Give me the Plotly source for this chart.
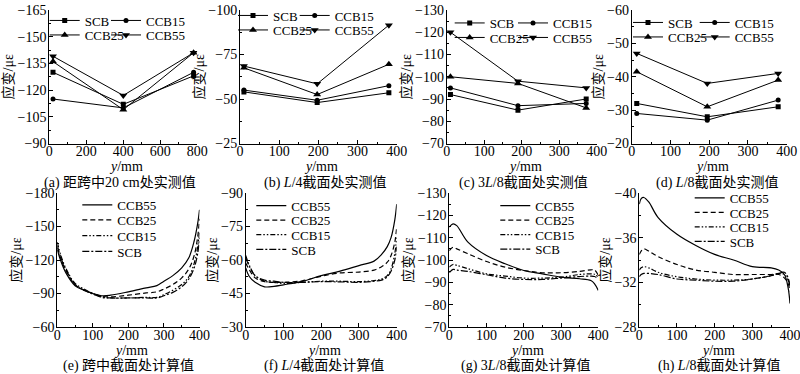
import plotly.graph_objects as go

# ---------------- DATA ----------------
SERIES = ["SCB", "CCB15", "CCB25", "CCB55"]

# (a) 20 cm from mid-span, measured
a_y = [20, 400, 780]
a_scb = [-130, -112, -128]
a_ccb15 = [-115, -110, -130]
a_ccb25 = [-136, -109, -141]
a_ccb55 = [-139, -117, -141]

# (b) L/4, measured
b_y = [10, 197, 380]
b_scb = [-54, -48, -53.5]
b_ccb15 = [-55, -49.3, -57.5]
b_ccb25 = [-67.5, -52.5, -69.5]
b_ccb55 = [-68.5, -58.5, -91.5]

# (c) 3L/8, measured
c_y = [10, 190, 372]
c_scb = [-92, -85, -90]
c_ccb15 = [-95, -87, -88]
c_ccb25 = [-100, -97, -86]
c_ccb55 = [-120, -98, -95]

# (d) L/8, measured
d_y = [13, 195, 378]
d_scb = [-32, -28, -31]
d_ccb15 = [-29, -27, -33]
d_ccb25 = [-41.5, -31, -39]
d_ccb55 = [-47, -38, -41]

# (e) mid-span, computed
e_y = [0, 10, 25, 50, 75, 100, 125, 150, 200, 250, 280, 300, 325, 350, 370, 385, 395, 400]
e_ccb55 = [-129, -119, -108, -97, -93, -90, -88, -88.5, -91.5, -95, -97, -101, -106, -113, -122, -137, -153, -165]
e_ccb25 = [-131, -121, -110, -98, -93, -90, -87.5, -87, -88.5, -90.5, -91.5, -94, -98, -104, -112, -124, -141, -157]
e_ccb15 = [-136, -124, -112, -99, -94, -90, -87, -86, -86, -86.5, -86.5, -89, -93, -98, -105, -117, -132, -146]
e_scb = [-133, -122, -111, -98, -93, -89.5, -86.5, -86, -86, -86, -86, -88, -91, -96, -103, -113, -126, -140]

# (f) L/4, computed
f_y = [0, 10, 25, 50, 75, 100, 150, 200, 250, 300, 340, 360, 375, 385, 395, 400]
f_ccb55 = [-56.5, -52.5, -50, -48, -48.2, -48.9, -50.4, -53, -55, -57.5, -59.5, -62.5, -66, -70, -78, -85]
f_ccb25 = [-58.7, -55.5, -52, -50.3, -50, -50, -50.7, -52.7, -54.2, -54.6, -55.5, -57, -59, -62, -68, -75]
f_ccb15 = [-62, -57.5, -53, -50.5, -50, -49.5, -50, -50.5, -50.5, -50.3, -50.8, -51.5, -53, -56, -63, -70]
f_scb = [-61, -57, -53, -51, -50.5, -50, -50, -50.3, -50.2, -50, -50.5, -51, -52.5, -55, -60, -66]

# (g) 3L/8, computed
g_y = [0, 10, 20, 50, 100, 150, 200, 250, 300, 350, 380, 390, 400]
g_ccb55 = [-114.7, -116.2, -115.4, -108, -102, -98.3, -95.3, -93.8, -92.3, -91.6, -90.8, -89.3, -86.4]
g_ccb25 = [-104.2, -105.7, -105, -102.8, -99.3, -96.8, -95.3, -94.3, -94.3, -94.9, -95.6, -95.5, -93.1]
g_ccb15 = [-96.8, -98, -97.6, -96.1, -93.8, -92.8, -91.9, -91.9, -92.3, -93.5, -93.8, -93.6, -92.3]
g_scb = [-94.3, -95.8, -95.5, -94.9, -93.4, -91.9, -91.3, -91.3, -91.9, -92.6, -92.8, -92.6, -91.6]

# (h) L/8, computed
h_y = [0, 5, 12, 25, 50, 100, 150, 200, 250, 300, 350, 370, 385, 395, 400]
h_ccb55 = [-39.0, -39.5, -39.6, -39.2, -37.8, -36.3, -35.3, -34.5, -34.0, -33.4, -33.3, -33.1, -32.7, -31.5, -30.1]
h_ccb25 = [-34.5, -34.8, -35.0, -34.8, -34.3, -33.6, -33.1, -32.9, -32.7, -32.7, -32.7, -32.7, -32.4, -31.9, -31.2]
h_ccb15 = [-33.1, -33.3, -33.4, -33.3, -32.9, -32.5, -32.3, -32.2, -32.2, -32.3, -32.6, -32.8, -32.7, -32.2, -31.8]
h_scb = [-32.5, -32.7, -32.8, -32.8, -32.7, -32.3, -32.2, -32.1, -32.1, -32.3, -32.6, -32.8, -32.9, -32.4, -31.5]

captions = [
    "(a) 距跨中20 cm处实测值",
    "(b) <i>L</i>/4截面处实测值",
    "(c) 3<i>L</i>/8截面处实测值",
    "(d) <i>L</i>/8截面处实测值",
    "(e) 跨中截面处计算值",
    "(f) <i>L</i>/4截面处计算值",
    "(g) 3<i>L</i>/8截面处计算值",
    "(h) <i>L</i>/8截面处计算值",
]
x_title = "<i>y</i>/mm"
y_title = "应变/με"
x_ticklabel_max = [800, 400, 400, 400, 400, 400, 400, 400]
y_ranges = [(-90, -165), (-25, -100), (-70, -130), (-20, -60),
            (-60, -180), (-30, -90), (-70, -130), (-28, -40)]
y_dticks = [15, 25, 10, 10, 30, 15, 10, 4]

# ---------------- STYLE ----------------
W, H = 800, 374
FONT = "Liberation Serif, Noto Sans CJK SC, serif"


def px_x(v):
    return v / W


def px_y(v):
    return 1 - v / H


# panel plot areas in window pixels: (left, right, top, bottom)
boxes = [
    (49.3, 197.3, 10, 143.5),
    (240, 396.7, 10, 143.5),
    (446.7, 596.7, 10, 143.5),
    (631.7, 786.7, 10, 143.5),
    (57.3, 199.5, 193, 327),
    (245.7, 396.7, 193, 327),
    (449.3, 598.3, 193, 327),
    (639.3, 790, 193, 327),
]
cap_y = [182.5, 182.5, 182.5, 182.5, 366.3, 366.3, 366.3, 366.3]
cap_dx = [-3, 7, 2, 8, 0, 3, 2, 5]
xt_y = [166.3, 166.3, 166.3, 166.3, 350, 350, 350, 350]

# legend slot positions: (line start x px, row y px)
top_leg = [
    ((56.7, 118), (20.5, 35)),
    ((245, 306.7), (15.5, 30)),
    ((461.7, 525), (23, 37.5)),
    ((640, 706.7), (22.5, 37)),
]
bot_leg = [
    (89.3, (205, 220, 235.7, 251.5)),
    (263.3, (205.7, 220.2, 234.7, 249.5)),
    (507.3, (205.7, 220.2, 234.7, 249.2)),
    (701.7, (198, 212.5, 227, 241.5)),
]
LEG_SHIFT = 7

markers = {"SCB": ("square", 5), "CCB15": ("circle", 5),
           "CCB25": ("triangle-up", 7), "CCB55": ("triangle-down", 7)}
dashes = {"CCB55": "solid", "CCB25": "5px,3px",
          "CCB15": "5px,2px,1.5px,2px,1.5px,2px", "SCB": "7px,2px,2px,2px"}

top_data = [
    (a_y, {"SCB": a_scb, "CCB15": a_ccb15, "CCB25": a_ccb25, "CCB55": a_ccb55}),
    (b_y, {"SCB": b_scb, "CCB15": b_ccb15, "CCB25": b_ccb25, "CCB55": b_ccb55}),
    (c_y, {"SCB": c_scb, "CCB15": c_ccb15, "CCB25": c_ccb25, "CCB55": c_ccb55}),
    (d_y, {"SCB": d_scb, "CCB15": d_ccb15, "CCB25": d_ccb25, "CCB55": d_ccb55}),
]
bot_data = [
    (e_y, {"CCB55": e_ccb55, "CCB25": e_ccb25, "CCB15": e_ccb15, "SCB": e_scb}),
    (f_y, {"CCB55": f_ccb55, "CCB25": f_ccb25, "CCB15": f_ccb15, "SCB": f_scb}),
    (g_y, {"CCB55": g_ccb55, "CCB25": g_ccb25, "CCB15": g_ccb15, "SCB": g_scb}),
    (h_y, {"CCB55": h_ccb55, "CCB25": h_ccb25, "CCB15": h_ccb15, "SCB": h_scb}),
]

fig = go.Figure()
layout = {}
leg_count = 0


def add_legend(xpx, ypx):
    global leg_count
    leg_count += 1
    name = "legend" if leg_count == 1 else f"legend{leg_count}"
    layout[name] = dict(
        x=px_x(xpx - 5 - LEG_SHIFT), y=px_y(ypx), xanchor="left", yanchor="middle",
        xref="paper", yref="paper", bgcolor="rgba(0,0,0,0)", borderwidth=0,
        font=dict(family=FONT, size=13, color="black"), itemwidth=30,
        tracegroupgap=0, orientation="v",
    )
    return name


# top panels
for p, (yy, ser) in enumerate(top_data):
    k = p + 1
    (c1, c2), (r1, r2) = top_leg[p]
    slots = {"SCB": (c1, r1), "CCB15": (c2, r1), "CCB25": (c1, r2), "CCB55": (c2, r2)}
    for s in SERIES:
        sym, sz = markers[s]
        lg = add_legend(*slots[s])
        fig.add_trace(go.Scatter(
            x=yy, y=ser[s], name=s, mode="lines+markers",
            line=dict(color="black", width=1),
            marker=dict(symbol=sym, size=sz, color="black"),
            xaxis=f"x{k}", yaxis=f"y{k}", legend=lg,
        ))

# bottom panels
for p, (yy, ser) in enumerate(bot_data):
    k = p + 5
    lx, rows = bot_leg[p]
    for i, s in enumerate(["CCB55", "CCB25", "CCB15", "SCB"]):
        lg = add_legend(lx, rows[i])
        fig.add_trace(go.Scatter(
            x=yy, y=ser[s], name=s, mode="lines", line_shape="spline",
            line=dict(color="black", width=1.2, dash=dashes[s]),
            xaxis=f"x{k}", yaxis=f"y{k}", legend=lg,
        ))

annotations = []
for i in range(8):
    k = i + 1
    l, r, t, b = boxes[i]
    xmax = x_ticklabel_max[i]
    layout[f"xaxis{k}"] = dict(
        domain=[px_x(l), px_x(r)], anchor=f"y{k}", range=[0, xmax],
        tick0=0, dtick=xmax / 4, ticks="inside", ticklen=4, tickwidth=1,
        tickcolor="black", showline=True, linecolor="black", linewidth=1,
        showgrid=False, zeroline=False, ticklabelstandoff=-5,
        ticklabeloverflow="allow",
        tickfont=dict(family=FONT, size=14, color="black"),
        minor=dict(ticks="inside", ticklen=2, dtick=xmax / 8, tickcolor="black", showgrid=False),
    )
    y0, y1 = y_ranges[i]
    dt = y_dticks[i]
    layout[f"yaxis{k}"] = dict(
        domain=[px_y(b), px_y(t)], anchor=f"x{k}", range=[y0, y1],
        tick0=0, dtick=dt, ticks="inside", ticklen=4, tickwidth=1,
        tickcolor="black", showline=True, linecolor="black", linewidth=1,
        showgrid=False, zeroline=False, ticklabelstandoff=-1,
        ticklabeloverflow="allow",
        tickfont=dict(family=FONT, size=14, color="black"),
        minor=dict(ticks="inside", ticklen=2, dtick=dt / 2, tickcolor="black", showgrid=False),
        title=dict(text=y_title, font=dict(family=FONT, size=14, color="black"), standoff=0),
    )
    annotations.append(dict(
        text=x_title, xref="paper", yref="paper",
        x=px_x((l + r) / 2 + 3), y=px_y(xt_y[i]),
        xanchor="center", yanchor="middle", showarrow=False,
        font=dict(family=FONT, size=14, color="black"),
    ))
    annotations.append(dict(
        text=captions[i], xref="paper", yref="paper",
        x=px_x((l + r) / 2 + cap_dx[i]), y=px_y(cap_y[i]),
        xanchor="center", yanchor="middle", showarrow=False,
        font=dict(family=FONT, size=14, color="black"),
    ))

fig.update_layout(
    width=W, height=H, margin=dict(l=0, r=0, t=0, b=0, pad=0, autoexpand=False),
    paper_bgcolor="white", plot_bgcolor="white",
    font=dict(family=FONT, size=14, color="black"),
    annotations=annotations, showlegend=True,
    **layout,
)

# remove the browser's default page margin so the 800x374 figure fills the window
fig.write_html("out.html", config={"displayModeBar": False},
               post_script="document.body.style.margin='0';")
